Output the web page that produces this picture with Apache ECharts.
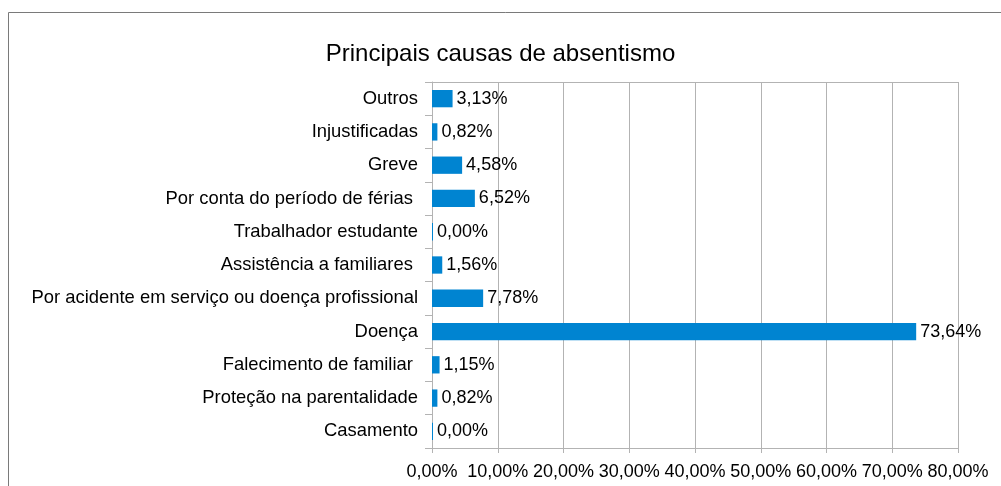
<!DOCTYPE html>
<html>
<head>
<meta charset="utf-8">
<script src="https://cdn.jsdelivr.net/npm/echarts@6/dist/echarts.min.js"></script>
<style>
  html, body { margin: 0; padding: 0; background: #fff; }
  #main { width: 1001px; height: 486px; }
</style>
</head>
<body>
<div id="main"></div>
<script>
// categories bottom -> top (as drawn on the category axis)
var categorias = [
  "Casamento",
  "Proteção na parentalidade",
  "Falecimento de familiar ",
  "Doença",
  "Por acidente em serviço ou doença profissional",
  "Assistência a familiares ",
  "Trabalhador estudante",
  "Por conta do período de férias ",
  "Greve",
  "Injustificadas",
  "Outros"
];
var percentagens = [0.00, 0.82, 1.15, 73.64, 7.78, 1.56, 0.00, 6.52, 4.58, 0.82, 3.13];

var fmt = function (v) { return v.toFixed(2).replace('.', ',') + '%'; };

var myChart = echarts.init(document.getElementById('main'));
var gridColor = '#b3b3b3';
var fonte = '"Liberation Sans", Arial, sans-serif';

var option = {
  animation: false,
  backgroundColor: '#fff',
  title: {
    text: 'Principais causas de absentismo',
    left: 'center',
    top: 37,
    textStyle: { fontFamily: fonte, fontSize: 24, fontWeight: 'normal', color: '#000' }
  },
  graphic: [{
    type: 'rect',
    shape: { x: 8.5, y: 12.5, width: 1100, height: 600 },
    style: { fill: 'none', stroke: '#7a7a7a', lineWidth: 1 },
    silent: true
  }],
  grid: { left: 432, right: 43, top: 82, bottom: 38 },
  xAxis: [{
    type: 'value',
    min: 0,
    max: 80,
    interval: 10,
    axisLine: { show: true, lineStyle: { color: gridColor } },
    axisTick: { show: true, length: 5, lineStyle: { color: gridColor } },
    splitLine: { show: true, lineStyle: { color: gridColor } },
    axisLabel: {
      margin: 15,
      fontFamily: fonte, fontSize: 18, color: '#000',
      formatter: function (v) { return fmt(v); }
    }
  }, {
    type: 'value',
    position: 'top',
    min: 0,
    max: 80,
    axisLine: { show: true, lineStyle: { color: gridColor } },
    axisTick: { show: false },
    axisLabel: { show: false },
    splitLine: { show: false }
  }],
  yAxis: {
    type: 'category',
    data: categorias,
    axisLine: { show: true, lineStyle: { color: gridColor } },
    axisTick: { show: true, length: 7, lineStyle: { color: gridColor } },
    axisLabel: { margin: 14, fontFamily: fonte, fontSize: 18.4, color: '#000' }
  },
  series: [{
    type: 'bar',
    data: percentagens,
    barWidth: '52%',
    barMinHeight: 1,
    itemStyle: { color: '#0084d1' },
    label: {
      show: true,
      position: 'right',
      distance: 4,
      fontFamily: fonte, fontSize: 18, color: '#000',
      formatter: function (p) { return fmt(p.value); }
    }
  }]
};

myChart.setOption(option);
</script>
</body>
</html>
